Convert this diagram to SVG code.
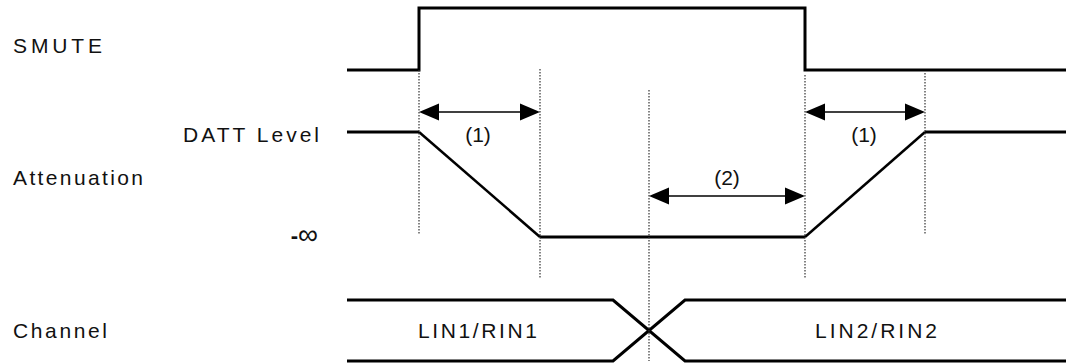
<svg xmlns="http://www.w3.org/2000/svg" width="1066" height="364" viewBox="0 0 1066 364">
<style>
.lbl{font-family:"Liberation Sans",Arial,sans-serif;font-size:21px;fill:#111}
.sig{fill:none;stroke:#000;stroke-width:3;stroke-linejoin:miter}
.dot{fill:none;stroke:#333;stroke-width:1.2;stroke-dasharray:1.5 1.5}
.arr{fill:none;stroke:#000;stroke-width:1.5}
.head{fill:#000}
</style>
<rect width="1066" height="364" fill="#fff"/>
<g id="labels">
<text class="lbl" x="13" y="53" textLength="89" lengthAdjust="spacing">SMUTE</text>
<text class="lbl" x="183" y="142" textLength="136" lengthAdjust="spacing">DATT Level</text>
<text class="lbl" x="13" y="185" textLength="130" lengthAdjust="spacing">Attenuation</text>
<text class="lbl" x="318" y="244" text-anchor="end"><tspan font-weight="bold" font-size="22" dy="-1">-</tspan><tspan font-size="28" dy="1">∞</tspan></text>
<text class="lbl" x="13" y="338" textLength="94" lengthAdjust="spacing">Channel</text>
</g>
<g id="smute">
<polyline class="sig" points="347,70 419,70 419,8 805,8 805,70 1066,70"/>
</g>
<g id="attenuation">
<polyline class="sig" points="347,132 419,132" />
<polyline class="sig" style="stroke-width:2.5" points="419,132 540,237"/>
<polyline class="sig" points="540,237 805,237"/>
<polyline class="sig" style="stroke-width:2.5" points="805,237 925,132"/>
<polyline class="sig" points="925,132 1066,132"/>
</g>
<g id="channel">
<polyline class="sig" points="347,300 613,300 685,361 1066,361"/>
<polyline class="sig" points="347,361 613,361 685,300 1066,300"/>
<text class="lbl" x="418" y="338" textLength="119" lengthAdjust="spacing">LIN1/RIN1</text>
<text class="lbl" x="815" y="338" textLength="122" lengthAdjust="spacing">LIN2/RIN2</text>
</g>
<g id="connectors">
<line class="dot" x1="419" y1="70" x2="419" y2="234"/>
<line class="dot" x1="540" y1="69" x2="540" y2="278"/>
<line class="dot" x1="649" y1="90" x2="649" y2="361"/>
<line class="dot" x1="805" y1="75" x2="805" y2="278"/>
<line class="dot" x1="925" y1="73" x2="925" y2="234"/>
<line class="arr" x1="435" y1="112" x2="524" y2="112"/>
<polygon class="head" points="419,112 439,103.5 439,120.5"/>
<polygon class="head" points="540,112 520,103.5 520,120.5"/>
<line class="arr" x1="821" y1="112" x2="909" y2="112"/>
<polygon class="head" points="805,112 825,103.5 825,120.5"/>
<polygon class="head" points="925,112 905,103.5 905,120.5"/>
<line class="arr" x1="665" y1="196" x2="789" y2="196"/>
<polygon class="head" points="649,196 669,187.5 669,204.5"/>
<polygon class="head" points="805,196 785,187.5 785,204.5"/>
<text class="lbl" x="478" y="142" text-anchor="middle">(1)</text>
<text class="lbl" x="864" y="142" text-anchor="middle">(1)</text>
<text class="lbl" x="727" y="185" text-anchor="middle">(2)</text>
</g>
</svg>
